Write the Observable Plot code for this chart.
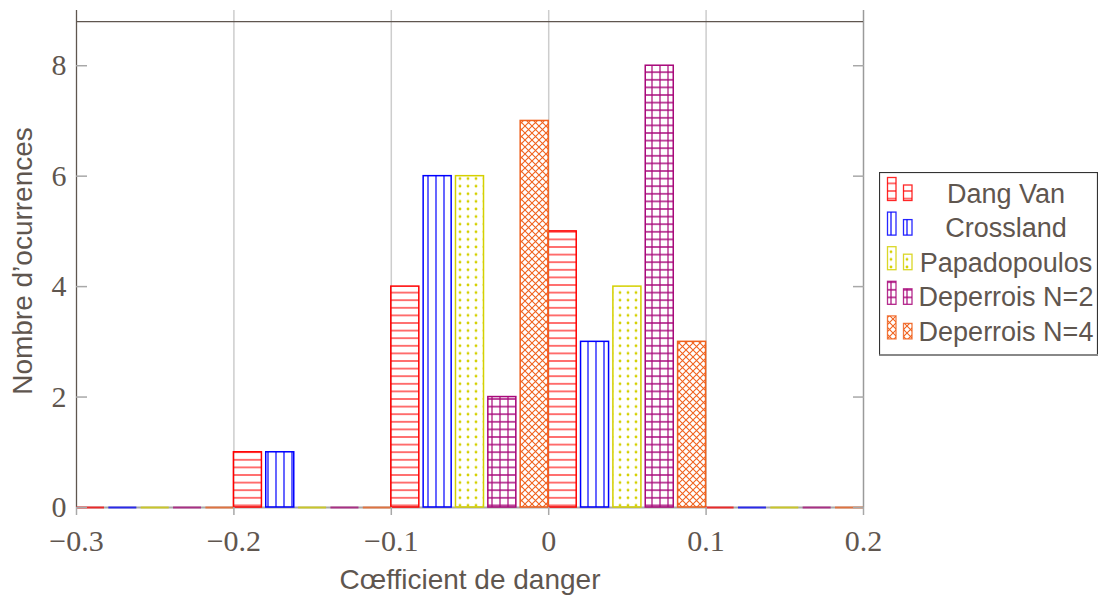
<!DOCTYPE html>
<html>
<head>
<meta charset="utf-8">
<script src="https://cdn.jsdelivr.net/npm/d3@7"></script>
<script src="https://cdn.jsdelivr.net/npm/@observablehq/plot@0.6"></script>
<style>
  body { margin: 0; background: #fff; }
  #wrap { position: relative; width: 1103px; height: 595px; overflow: hidden; }
  #legend { position: absolute; left: 879px; top: 172px; }
</style>
</head>
<body>
<div id="wrap"></div>
<script>
// ---- data ----
const binStarts = [-0.3, -0.2, -0.1, 0, 0.1];
const binWidth = 0.1;
const seriesNames = ["Dang Van", "Crossland", "Papadopoulos", "Deperrois N=2", "Deperrois N=4"];
const dangVan      = [0, 1, 4, 5, 0];
const crossland    = [0, 1, 6, 3, 0];
const papadopoulos = [0, 0, 6, 4, 0];
const deperrois2   = [0, 0, 2, 8, 0];
const deperrois4   = [0, 0, 7, 3, 0];
const seriesColors = ["#ff0000", "#0000ff", "#d4d000", "#a8087a", "#f0621e"];
const xTicks = [-0.3, -0.2, -0.1, 0, 0.1, 0.2];
const yTicks = [0, 2, 4, 6, 8];
const xDomain = [-0.3, 0.2];
const yDomain = [0, 9];
const yFrameTop = 8.8;
const xLabel = "Cœfficient de danger";
const yLabel = "Nombre d’ocurrences";

const textColor = "#5f564f";
const counts = [dangVan, crossland, papadopoulos, deperrois2, deperrois4];
const n = seriesNames.length;
const barW = binWidth / n * 0.89;
const gap = (binWidth - n * barW) / (n - 1);
const rows = [];
counts.forEach((arr, si) => arr.forEach((v, bi) => {
  const x1 = binStarts[bi] + si * (barW + gap);
  rows.push({series: seriesNames[si], si, v, x1, x2: x1 + barW});
}));

const patternDefs = `
<defs>
  <pattern id="pat0" patternUnits="userSpaceOnUse" width="8" height="7.6">
    <path d="M0,3.8H8" stroke="${seriesColors[0]}" stroke-width="1.1"/>
  </pattern>
  <pattern id="pat1" patternUnits="userSpaceOnUse" width="8" height="8">
    <path d="M4,0V8" stroke="${seriesColors[1]}" stroke-width="1.2"/>
  </pattern>
  <pattern id="pat2" patternUnits="userSpaceOnUse" width="8" height="7.6">
    <circle cx="4" cy="3.8" r="1.4" fill="${seriesColors[2]}"/>
  </pattern>
  <pattern id="pat3" patternUnits="userSpaceOnUse" width="8" height="7.6">
    <path d="M4,0V7.6M0,3.8H8" stroke="${seriesColors[3]}" stroke-width="1.2"/>
  </pattern>
  <pattern id="pat4" patternUnits="userSpaceOnUse" width="7" height="7">
    <path d="M0,0L7,7M7,0L0,7" stroke="${seriesColors[4]}" stroke-width="1.1"/>
  </pattern>
</defs>`;

const fmt = d3.format("");
const serif = "'Liberation Serif', 'DejaVu Serif', serif";
const sans = "'Liberation Sans', Arial, sans-serif";

const chart = Plot.plot({
  width: 1103,
  height: 595,
  marginLeft: 76,
  marginRight: 240,
  marginTop: 10,
  marginBottom: 88,
  style: {background: "#fff", color: textColor},
  x: {domain: xDomain},
  y: {domain: yDomain},
  marks: [
    Plot.ruleX(xTicks.slice(1, -1), {stroke: "#cdcdcd", strokeWidth: 1.5}),
    Plot.ruleY([0], {stroke: "#a8a8a8", strokeWidth: 2}),
    Plot.ruleX([xDomain[0]], {stroke: textColor, strokeWidth: 1.3}),
    Plot.ruleX([xDomain[1]], {stroke: "#9a9a9a", strokeWidth: 1.5}),
    Plot.ruleY([yFrameTop], {stroke: textColor, strokeWidth: 1.3}),
    ...seriesNames.map((s, si) => Plot.rect(rows.filter(d => d.si === si && d.v > 0), {
      x1: "x1", x2: "x2", y1: 0, y2: "v",
      fill: `url(#pat${si})`, stroke: seriesColors[si], strokeWidth: 1.5
    })),
    ...seriesNames.map((s, si) => Plot.ruleY(rows.filter(d => d.si === si && d.v === 0), {
      y: "v", x1: "x1", x2: "x2", stroke: seriesColors[si], strokeWidth: 2, strokeOpacity: 0.75
    })),
    Plot.axisY(yTicks, {anchor: "left", tickSize: -11, tickPadding: 21, label: null,
      tickFormat: fmt, stroke: "#a8a8a8", strokeWidth: 1.5, fontSize: 30, fontFamily: serif, fill: textColor}),
    Plot.axisY(yTicks, {anchor: "right", tickSize: -11, label: null,
      tickFormat: () => "", stroke: "#a8a8a8", strokeWidth: 1.5}),
    Plot.axisX(xTicks, {anchor: "bottom", tickSize: 8, tickPadding: 14, label: null,
      tickFormat: fmt, stroke: "#a8a8a8", strokeWidth: 1.5, fontSize: 30, fontFamily: serif, fill: textColor}),
    Plot.text([yLabel], {frameAnchor: "left", textAnchor: "middle", lineAnchor: "middle", rotate: -90, dx: -53, dy: 2,
      fontSize: 28, fontFamily: sans, fill: textColor}),
    Plot.text([xLabel], {frameAnchor: "bottom", textAnchor: "middle", lineAnchor: "middle", dy: 73,
      fontSize: 28, fontFamily: sans, fill: textColor})
  ]
});
chart.insertAdjacentHTML("afterbegin", patternDefs);
document.getElementById("wrap").appendChild(chart);

// ---- legend ----
const lw = 219, lh = 184, step = 34.6;
const svgNS = "http://www.w3.org/2000/svg";
const leg = document.createElementNS(svgNS, "svg");
leg.setAttribute("id", "legend");
leg.setAttribute("width", lw);
leg.setAttribute("height", lh);
let html = `<rect x="0.5" y="0.5" width="${lw - 1}" height="${lh - 1.5}" fill="#fff" stroke="#333" stroke-width="1.2"/>
<path d="M0.5,${lh - 1}H${lw}" stroke="#888" stroke-width="2"/>`;
seriesNames.forEach((name, i) => {
  const oy = i * step;
  html += `<rect x="8.5" y="${5.5 + oy}" width="8.5" height="23" fill="url(#pat${i})" stroke="${seriesColors[i]}" stroke-width="1.3" stroke-opacity="0.85"/>`;
  html += `<rect x="24.5" y="${13 + oy}" width="8.5" height="15.5" fill="url(#pat${i})" stroke="${seriesColors[i]}" stroke-width="1.3" stroke-opacity="0.85"/>`;
  html += `<text x="127" y="${30.5 + oy}" text-anchor="middle" font-family="${sans.replace(/'/g, "&quot;")}" font-size="27" fill="${textColor}">${name}</text>`;
});
leg.innerHTML = html;
document.getElementById("wrap").appendChild(leg);
</script>
</body>
</html>
